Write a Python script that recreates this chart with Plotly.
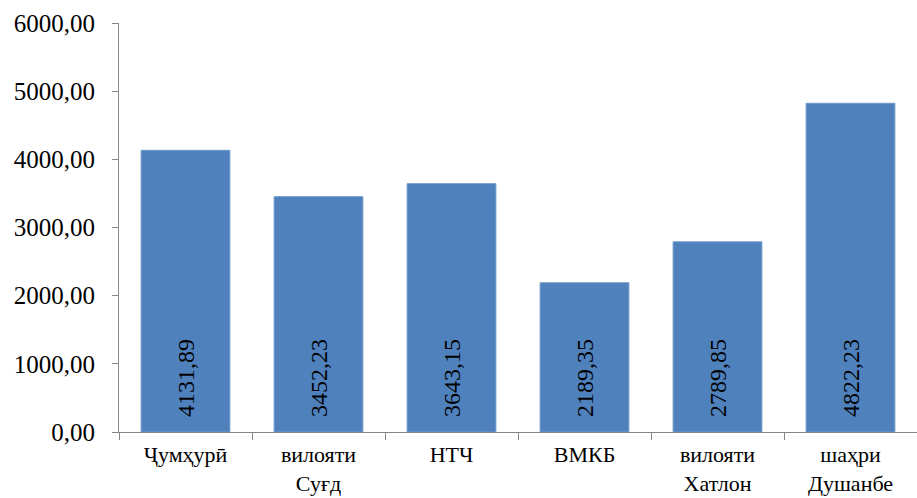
import plotly.graph_objects as go

categories = ["Ҷумҳурӣ", "вилояти<br>Суғд", "НТЧ", "ВМКБ", "вилояти<br>Хатлон", "шаҳри<br>Душанбе"]
values = [4131.89, 3452.23, 3643.15, 2189.35, 2789.85, 4822.23]
y_ticks = [0, 1000, 2000, 3000, 4000, 5000, 6000]

FONT = "Liberation Serif, Times New Roman, serif"

fig = go.Figure(go.Bar(
    x=categories,
    y=values,
    marker=dict(color="#4F81BD", line=dict(color="#6F97C9", width=1)),
    texttemplate="\u00a0\u00a0%{y:.2f}",
    textposition="inside",
    insidetextanchor="start",
    textangle=-90,
    textfont=dict(family=FONT, size=24, color="black"),
    cliponaxis=False,
))

fig.update_layout(
    width=917, height=498,
    margin=dict(l=119, r=0, t=23, b=66),
    paper_bgcolor="white", plot_bgcolor="white",
    separators=", ",
    bargap=0.333,
    showlegend=False,
    font=dict(family=FONT, size=24, color="black"),
)
fig.update_xaxes(
    automargin=False,
    showgrid=False, showline=True, linecolor="#868686", linewidth=1,
    ticks="outside", tickson="boundaries", ticklen=7, tickcolor="#868686",
    tickfont=dict(family=FONT, size=22, color="black"),
    ticklabelstandoff=3,
)
fig.update_yaxes(
    automargin=False,
    range=[0, 6000], tickvals=y_ticks, tickformat=".2f",
    showgrid=False, showline=True, linecolor="#868686", linewidth=1,
    ticks="outside", ticklen=6, tickcolor="#868686",
    tickfont=dict(family=FONT, size=25, color="black"),
    ticklabelstandoff=12,
    zeroline=False,
)

fig.write_html(
    "out.html",
    config={"displayModeBar": False},
    post_script="document.body.style.margin='0';document.body.style.overflow='hidden';",
)
